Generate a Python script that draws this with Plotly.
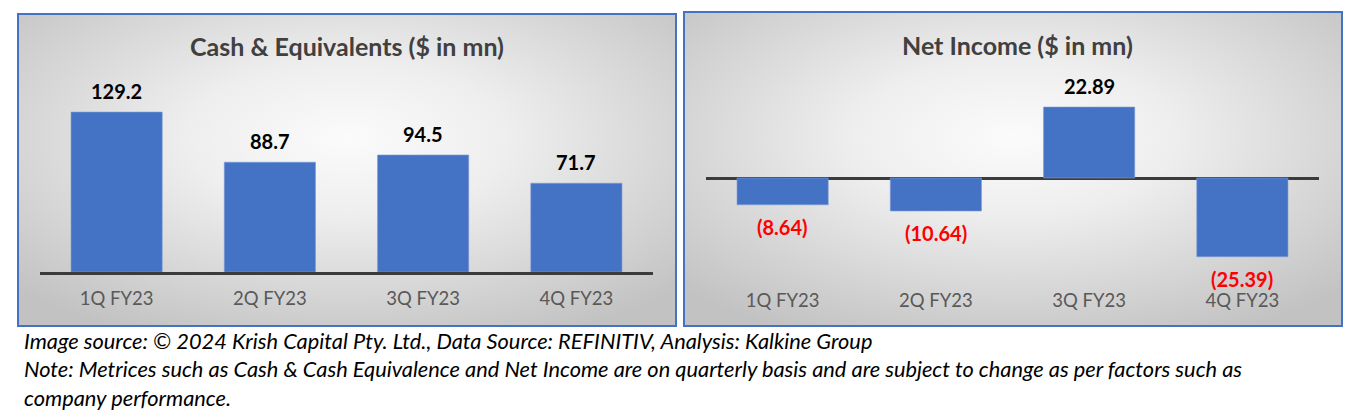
import base64
import plotly.graph_objects as go

W, H = 1350, 417

quarters = ["1Q FY23", "2Q FY23", "3Q FY23", "4Q FY23"]
cash = [129.2, 88.7, 94.5, 71.7]
net_income = [-8.64, -10.64, 22.89, -25.39]

title_left = "Cash & Equivalents ($ in mn)"
title_right = "Net Income ($ in mn)"
footer_lines = [
    "Image source: © 2024 Krish Capital Pty. Ltd., Data Source: REFINITIV, Analysis: Kalkine Group",
    "Note: Metrices such as Cash & Cash Equivalence and Net Income are on quarterly basis and are subject to change as per factors such as",
    "company performance.",
]

FONT = "Lato, Noto Sans, sans-serif"
BLUE = "#4472C4"


def px(x):
    return x / W


def py(y):
    return 1 - y / H


def grad_uri():
    svg = (
        '<svg xmlns="http://www.w3.org/2000/svg" width="400" height="200" preserveAspectRatio="none">'
        '<defs><radialGradient id="g" cx="50%" cy="40%" r="70%">'
        '<stop offset="0" stop-color="#fbfbfb"/><stop offset="0.35" stop-color="#eeeeee"/>'
        '<stop offset="1" stop-color="#c2c2c2"/></radialGradient></defs>'
        '<rect x="0" y="0" width="400" height="200" fill="url(#g)"/></svg>'
    )
    return "data:image/svg+xml;base64," + base64.b64encode(svg.encode()).decode()


fig = go.Figure()

fig.add_trace(go.Bar(x=quarters, y=cash, marker=dict(color=BLUE, line=dict(color="#7d9bd6", width=0.6)),
                     xaxis="x", yaxis="y", showlegend=False, hoverinfo="x+y"))
fig.add_trace(go.Bar(x=quarters, y=net_income, marker=dict(color=BLUE, line=dict(color="#7d9bd6", width=0.6)),
                     xaxis="x2", yaxis="y2", showlegend=False, hoverinfo="x+y"))

# Panels
panels = [(18, 14, 676, 326), (684, 12, 1342, 326)]
images = []
shapes = []
for (x0, y0, x1, y1) in panels:
    images.append(dict(source=grad_uri(), xref="paper", yref="paper", x=px(x0), y=py(y0),
                       sizex=px(x1) - px(x0), sizey=py(y0) - py(y1), sizing="stretch",
                       xanchor="left", yanchor="top", layer="below"))
    shapes.append(dict(type="rect", xref="paper", yref="paper", x0=px(x0), y0=py(y1), x1=px(x1), y1=py(y0),
                       line=dict(color=BLUE, width=2), fillcolor="rgba(0,0,0,0)", layer="above"))

annotations = []
# titles
annotations.append(dict(text="<b>" + title_left + "</b>", x=px(347), y=py(46), xref="paper", yref="paper",
                        xanchor="center", yanchor="middle",
                        showarrow=False, font=dict(family=FONT, size=25, color="#404040")))
annotations.append(dict(text="<b>" + title_right + "</b>", x=px(1017), y=py(45), xref="paper", yref="paper",
                        xanchor="center", yanchor="middle",
                        showarrow=False, font=dict(family=FONT, size=25, color="#404040")))

# data labels
for q, v in zip(quarters, cash):
    annotations.append(dict(text="<b>%.1f</b>" % v, x=q, y=v, xref="x", yref="y", yshift=21, showarrow=False,
                            font=dict(family=FONT, size=20, color="#000000")))
for q, v in zip(quarters, net_income):
    if v < 0:
        txt, col, sh = "<b>(%.2f)</b>" % abs(v), "#FF0000", -22
    else:
        txt, col, sh = "<b>%.2f</b>" % v, "#000000", 21
    annotations.append(dict(text=txt, x=q, y=v, xref="x2", yref="y2", yshift=sh, showarrow=False,
                            font=dict(family=FONT, size=20, color=col)))

# footer
for i, line in enumerate(footer_lines):
    annotations.append(dict(text="<i>" + line + "</i>", x=px(22), y=py(340 + 28.5 * i), xref="paper", yref="paper",
                            xanchor="left", yanchor="middle", showarrow=False,
                            font=dict(family=FONT, size=21.8, color="#000000")))

fig.update_layout(
    width=W, height=H, margin=dict(l=0, r=0, t=0, b=0),
    paper_bgcolor="white", plot_bgcolor="rgba(0,0,0,0)",
    bargap=0.405,
    images=images, shapes=shapes, annotations=annotations,
    xaxis=dict(domain=[px(40), px(653)], anchor="y", showline=True, linecolor="#3b3b3b", linewidth=3,
               ticks="", ticklabelstandoff=8,
               tickfont=dict(family=FONT, size=18.5, color="#595959"), showgrid=False),
    yaxis=dict(domain=[py(272), py(80)], anchor="x", range=[0, 192 / 1.238], visible=False, showgrid=False,
               zeroline=False),
    xaxis2=dict(domain=[px(706), px(1319)], anchor="y2", showline=False, ticks="", ticklabelstandoff=3,
                tickfont=dict(family=FONT, size=18.5, color="#595959"), showgrid=False),
    yaxis2=dict(domain=[py(284), py(60)], anchor="x2", range=[-(284 - 178) / 3.1, (178 - 60) / 3.1],
                showgrid=False, zeroline=True, zerolinecolor="#3b3b3b", zerolinewidth=3, showticklabels=False),
)

fig.write_html("out.html", config={"displayModeBar": False},
               post_script="document.body.style.margin='0';document.body.style.padding='0';")
